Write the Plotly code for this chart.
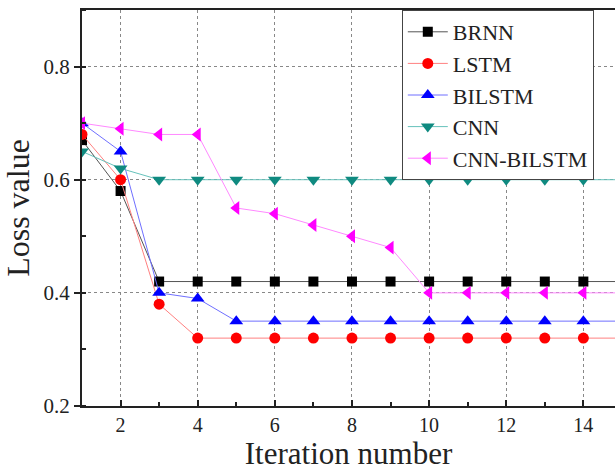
import plotly.graph_objects as go

iterations = list(range(1, 16))
brnn = [0.67, 0.58, 0.42, 0.42, 0.42, 0.42, 0.42, 0.42, 0.42, 0.42, 0.42, 0.42, 0.42, 0.42, 0.42]
lstm = [0.68, 0.60, 0.38, 0.32, 0.32, 0.32, 0.32, 0.32, 0.32, 0.32, 0.32, 0.32, 0.32, 0.32, 0.32]
bilstm = [0.70, 0.65, 0.40, 0.39, 0.35, 0.35, 0.35, 0.35, 0.35, 0.35, 0.35, 0.35, 0.35, 0.35, 0.35]
cnn = [0.65, 0.62, 0.60, 0.60, 0.60, 0.60, 0.60, 0.60, 0.60, 0.60, 0.60, 0.60, 0.60, 0.60, 0.60]
cnn_bilstm = [0.70, 0.69, 0.68, 0.68, 0.55, 0.54, 0.52, 0.50, 0.48, 0.40, 0.40, 0.40, 0.40, 0.40, 0.40]

series = [
    ("BRNN", brnn, "#000000", "#555555", "square", 10),
    ("LSTM", lstm, "#ff0000", "#ff8080", "circle", 11),
    ("BILSTM", bilstm, "#0000ff", "#6f6fff", "triangle-up", 12),
    ("CNN", cnn, "#0f8a80", "#66c2bb", "triangle-down", 12),
    ("CNN-BILSTM", cnn_bilstm, "#ff00ff", "#ff88ff", "triangle-left", 12),
]

fig = go.Figure()
for name, vals, mcol, lcol, sym, sz in series:
    fig.add_trace(go.Scatter(
        x=iterations, y=vals, name=name, mode="lines+markers",
        line=dict(color=lcol, width=1),
        marker=dict(symbol=sym, size=sz, color=mcol),
    ))

font = "Liberation Serif"
fig.update_layout(
    width=615, height=471,
    margin=dict(l=82, r=0, t=10, b=65),
    paper_bgcolor="white", plot_bgcolor="white",
    font=dict(family=font, size=20, color="#222"),
    legend=dict(
        x=0.6, y=1.0, xanchor="left", yanchor="top",
        bordercolor="#444", borderwidth=1, bgcolor="white",
        font=dict(family=font, size=22, color="#222"),
        tracegroupgap=0, itemwidth=40,
    ),
    xaxis=dict(
        range=[1, 14.82], tick0=0, dtick=2,
        showline=True, linecolor="#222", linewidth=2, mirror=True,
        ticks="inside", ticklen=6, tickwidth=2, tickcolor="#222",
        tickfont=dict(family=font, size=20, color="#222"),
        showgrid=True, gridcolor="#888", griddash="dot", gridwidth=1,
        minor=dict(dtick=1, tick0=0, ticks="inside", ticklen=4, tickwidth=2, tickcolor="#222", showgrid=False),
        title=dict(text="Iteration number", font=dict(family=font, size=31, color="#222"), standoff=7),
        zeroline=False,
    ),
    yaxis=dict(
        range=[0.2, 0.9], tick0=0, dtick=0.2,
        showline=True, linecolor="#222", linewidth=2,
        ticks="outside", ticklen=6, tickwidth=2, tickcolor="#222",
        tickfont=dict(family=font, size=21, color="#222"),
        showgrid=True, gridcolor="#888", griddash="dot", gridwidth=1,
        minor=dict(dtick=0.1, ticks="inside", ticklen=4, tickwidth=2, tickcolor="#222", showgrid=False),
        title=dict(text="Loss value", font=dict(family=font, size=32, color="#222"), standoff=4),
        tickformat=".1f",
        zeroline=False,
    ),
)

fig.write_html("out.html")
